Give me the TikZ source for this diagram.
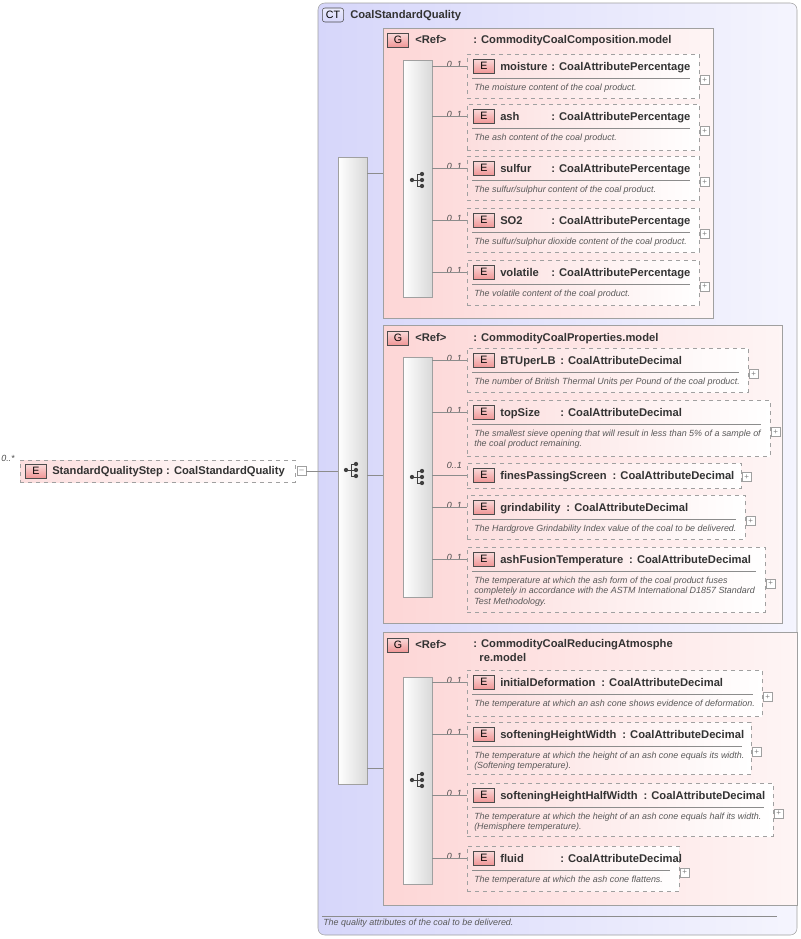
\documentclass[tikz,border=0pt]{standalone}
\usepackage{fontspec}
\setmainfont{Liberation Sans}
\usetikzlibrary{positioning,fit}
\definecolor{ctfill}{RGB}{214,214,250}
\definecolor{grfill}{RGB}{253,214,214}
\definecolor{elfill}{RGB}{252,222,222}
\definecolor{badge}{RGB}{240,150,150}
\definecolor{edge}{RGB}{160,160,160}
\tikzset{
  ct/.style={draw=edge, rounded corners=5pt, left color=ctfill, right color=ctfill!25, inner sep=0pt},
  grp/.style={draw=edge, left color=grfill, right color=grfill!25, inner sep=0pt},
  elem/.style={draw=edge, dashed, left color=elfill, right color=white, inner sep=0pt},
  seq/.style={draw=edge, left color=white, right color=black!15, inner sep=0pt},
  badge/.style={draw=black!70, top color=badge!35, bottom color=badge, font=\fontsize{8}{8}\selectfont, inner sep=1.8pt, minimum width=16pt, minimum height=10.5pt},
  title/.style={font=\fontsize{8.4}{10.5}\selectfont\bfseries, text=black!80, anchor=base west, inner sep=0pt},
  desc/.style={font=\fontsize{6.7}{8}\selectfont\itshape, text=black!65, anchor=north west, inner sep=0pt, align=left},
  mult/.style={font=\fontsize{6.7}{7}\selectfont\itshape, text=black!70, anchor=east, inner sep=0pt},
  conn/.style={draw=black!45, line width=0.4pt},
  plus/.style={draw=edge, fill=white, minimum size=6.5pt, inner sep=0pt, font=\fontsize{6}{6}\selectfont, text=black!50},
}
% element: id, x1, y1, x2, y2, name, type x (empty: after name), type, description
\newcommand{\elembox}[9]{%
  \node[elem, fit={(#2,#3)(#4,#5)}] (#1) {};
  \node[badge, anchor=west] (#1b) at (#2+6,#3+12) {E};
  \node[title] (#1n) at (#2+33,#3+16) {#6};
  \if\relax\detokenize{#7}\relax
    \node[title, right=4pt of #1n.base east, anchor=base west] (#1t) {#8};
  \else
    \node[title] (#1t) at (#7,#3+16) {#8};
  \fi
  \draw[black!45] (#2+5,#3+24) -- (#4-9,#3+24);
  \node[desc] (#1d) at (#2+7,#3+29.5) {#9};
  \node[plus, anchor=west] (#1p) at (#4+1,{(#3+#5)/2+4}) {+};
  \node[mult] (#1m) at (#2-5,#3+10) {0..1};
}
% sequence icon
\newcommand{\seqicon}[2]{%
  \fill[black!75] (#1-6,#2) circle (1.6pt);
  \draw[black!75, line width=0.7pt] (#1-6,#2) -- (#1-1,#2) (#1-1,#2-6) -- (#1-1,#2+6) (#1-1,#2-6) -- (#1+4,#2-6) (#1-1,#2) -- (#1+4,#2) (#1-1,#2+6) -- (#1+4,#2+6);
  \foreach \dy in {-6,0,6} \fill[black!75] (#1+4,#2+\dy) circle (1.6pt);
}
\begin{document}
\begin{tikzpicture}[x=0.75pt, y=-0.75pt]
\useasboundingbox (0,0) rectangle (800,939);

% complex type
\node[ct, fit={(318,3)(797,935)}] (ctype) {};
\node[badge, draw=black!70, top color=ctfill!50, bottom color=ctfill, rounded corners=2pt, anchor=west] (ctb) at (322,15) {CT};
\node[title] (ctn) at (350,18) {CoalStandardQuality};
\draw[black!45] (322,916) -- (777,916);
\node[desc] (ctd) at (323,919) {The quality attributes of the coal to be delivered.};

% root element
\node[elem, fit={(20,460)(295,482)}] (step) {};
\node[badge, anchor=west] (stepb) at (25,471) {E};
\node[title] (stepn) at (52,474) {StandardQualityStep\ : CoalStandardQuality};
\node[font=\fontsize{6.7}{7}\selectfont\itshape, text=black!70, inner sep=0pt] (stepm) at (8,458) {0..*};
\node[plus, anchor=west] (stepp) at (297,471) {--};

% main sequence
\node[seq, fit={(338,157)(367,784)}] (seq0) {};
\seqicon{352}{470}
\draw[conn] (stepp.east) -- (stepp.east -| seq0.west);

% group 1
\node[grp, fit={(383,28)(713,318)}] (grp1) {};
\node[badge, anchor=west] (g1b) at (387,40) {G};
\node[title] (g1r) at (415,43) {<Ref>};
\node[title] (g1n) at (473,43) {: CommodityCoalComposition.model};
\node[seq, fit={(403,60)(432,297)}] (seq1) {};
\seqicon{418}{180}
\draw[conn] (seq0.east |- 0,173) -- (grp1.west |- 0,173);

\elembox{moist}{467}{54}{699}{98}{moisture}{551}{: CoalAttributePercentage}{The moisture content of the coal product.}
\elembox{ash}{467}{104}{699}{150}{ash}{551}{: CoalAttributePercentage}{The ash content of the coal product.}
\elembox{sulf}{467}{156}{699}{200}{sulfur}{551}{: CoalAttributePercentage}{The sulfur/sulphur content of the coal product.}
\elembox{sotwo}{467}{208}{699}{252}{SO2}{551}{: CoalAttributePercentage}{The sulfur/sulphur dioxide content of the coal product.}
\elembox{volat}{467}{260}{699}{305}{volatile}{551}{: CoalAttributePercentage}{The volatile content of the coal product.}
\foreach \e in {moist,ash,sulf,sotwo,volat}
  \draw[conn] (seq1.east |- \e b) -- (\e.west |- \e b);

% group 2
\node[grp, fit={(383,325)(782,623)}] (grp2) {};
\node[badge, anchor=west] (g2b) at (387,338) {G};
\node[title] (g2r) at (415,341) {<Ref>};
\node[title] (g2n) at (473,341) {: CommodityCoalProperties.model};
\node[seq, fit={(403,357)(432,597)}] (seq2) {};
\seqicon{418}{477}
\draw[conn] (seq0.east |- 0,475) -- (grp2.west |- 0,475);

\elembox{btu}{467}{348}{748}{392}{BTUperLB}{560}{: CoalAttributeDecimal}{The number of British Thermal Units per Pound of the coal product.}
\elembox{tops}{467}{400}{770}{456}{topSize}{560}{: CoalAttributeDecimal}{The smallest sieve opening that will result in less than 5\% of a sample of\\the coal product remaining.}
\node[elem, fit={(467,463)(741,488)}] (fines) {};
\node[badge, anchor=west] (finesb) at (473,475) {E};
\node[title] (finesn) at (500,479) {finesPassingScreen};
\node[title, right=4pt of finesn.base east, anchor=base west] (finest) {: CoalAttributeDecimal};
\node[plus, anchor=west] (finesp) at (742,477) {+};
\node[mult] (finesm) at (462,465) {0..1};
\elembox{grind}{467}{495}{745}{539}{grindability}{}{: CoalAttributeDecimal}{The Hardgrove Grindability Index value of the coal to be delivered.}
\elembox{fusion}{467}{547}{765}{612}{ashFusionTemperature}{}{: CoalAttributeDecimal}{The temperature at which the ash form of the coal product fuses\\completely in accordance with the ASTM International D1857 Standard\\Test Methodology.}
\foreach \e in {btu,tops,fines,grind,fusion}
  \draw[conn] (seq2.east |- \e b) -- (\e.west |- \e b);

% group 3
\node[grp, fit={(383,632)(797,905)}] (grp3) {};
\node[badge, anchor=west] (g3b) at (387,645) {G};
\node[title] (g3r) at (415,648) {<Ref>};
\node[title, align=left, anchor=north west] (g3n) at (473,639) {: CommodityCoalReducingAtmosphe\\\ \ re.model};
\node[seq, fit={(403,677)(432,884)}] (seq3) {};
\seqicon{418}{780}
\draw[conn] (seq0.east |- 0,768) -- (grp3.west |- 0,768);

\elembox{initd}{467}{670}{762}{716}{initialDeformation}{}{: CoalAttributeDecimal}{The temperature at which an ash cone shows evidence of deformation.}
\elembox{softw}{467}{722}{751}{774}{softeningHeightWidth}{}{: CoalAttributeDecimal}{The temperature at which the height of an ash cone equals its width.\\(Softening temperature).}
\elembox{softh}{467}{783}{773}{836}{softeningHeightHalfWidth}{}{: CoalAttributeDecimal}{The temperature at which the height of an ash cone equals half its width.\\(Hemisphere temperature).}
\elembox{fluid}{467}{846}{679}{891}{fluid}{560}{: CoalAttributeDecimal}{The temperature at which the ash cone flattens.}
\foreach \e in {initd,softw,softh,fluid}
  \draw[conn] (seq3.east |- \e b) -- (\e.west |- \e b);
\end{tikzpicture}
\end{document}
